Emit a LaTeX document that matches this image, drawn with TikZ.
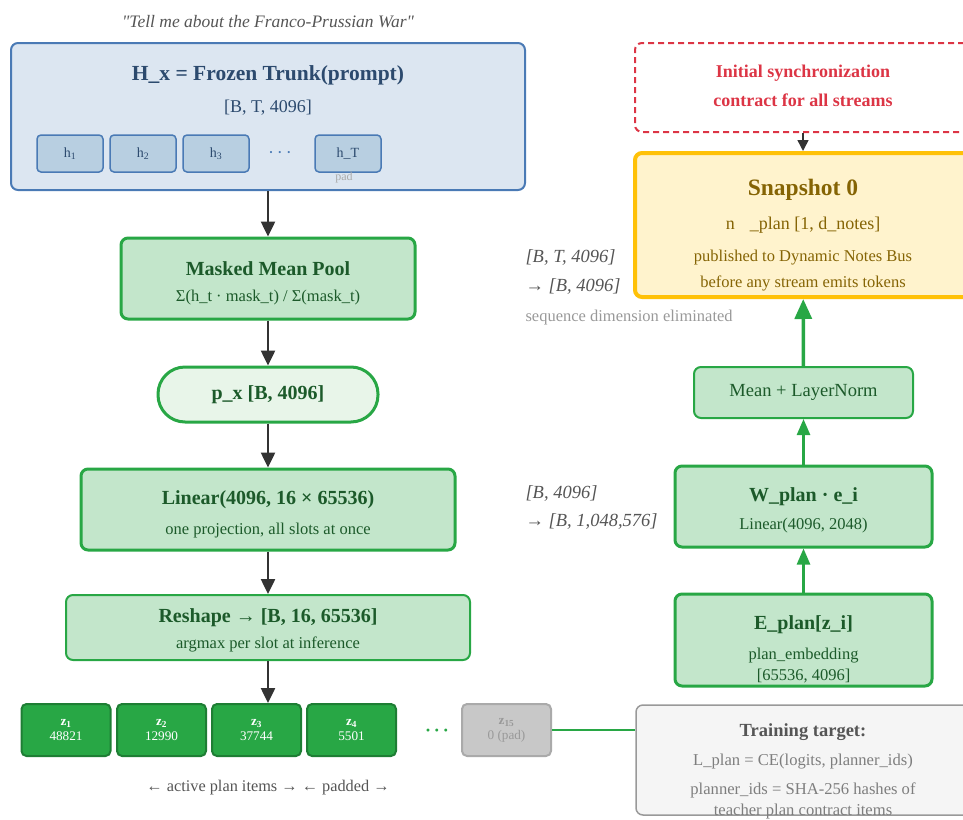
\documentclass[tikz,border=0pt]{standalone}
\usepackage{fontspec}
\setmainfont{Liberation Serif}
\usetikzlibrary{arrows.meta}
\definecolor{trunkfill}{HTML}{DCE6F1}
\definecolor{trunkline}{HTML}{4A7AB5}
\definecolor{trunktext}{HTML}{2C4A6E}
\definecolor{hfill}{HTML}{B8CFE1}
\definecolor{gfill}{HTML}{C3E6CB}
\definecolor{gline}{HTML}{28A745}
\definecolor{gtext}{HTML}{1C5A2A}
\definecolor{pxfill}{HTML}{E8F5E9}
\definecolor{zline}{HTML}{1E7E34}
\definecolor{snapfill}{HTML}{FFF3CD}
\definecolor{snapline}{HTML}{FFC107}
\definecolor{snaptext}{HTML}{856404}
\definecolor{syncred}{HTML}{DC3545}
\definecolor{arrowc}{HTML}{333333}
\definecolor{notegray}{HTML}{555555}
\definecolor{lightgray}{HTML}{999999}
\definecolor{padfill}{HTML}{C8C8C8}
\definecolor{padline}{HTML}{AAAAAA}
\definecolor{trainfill}{HTML}{F5F5F5}

\begin{document}
\begin{tikzpicture}[x=1pt,y=-1pt,
  box/.style={draw, rounded corners=7pt, inner sep=0pt},
  greenbox/.style={box, fill=gfill, draw=gline, line width=3pt},
  hbox/.style={box, rounded corners=4pt, fill=hfill, draw=trunkline, line width=1.5pt,
    minimum width=66pt, minimum height=37pt, text=trunktext, font=\fontsize{14}{16}\selectfont},
  zbox/.style={box, rounded corners=5pt, fill=gline, draw=zline, line width=2pt,
    minimum width=89pt, minimum height=52pt, text=white, align=center,
    font=\fontsize{13.2}{15}\selectfont},
  gtitle/.style={text=gtext, font=\fontsize{20}{24}\selectfont\bfseries},
  gsub/.style={text=gtext, font=\fontsize{16.5}{19}\selectfont},
  note/.style={text=notegray, anchor=west, font=\fontsize{18.5}{21}\selectfont\itshape},
  darrow/.style={draw=arrowc, line width=2.5pt, -{Triangle[length=15pt,width=14pt]}},
  garrow/.style={draw=gline, line width=2.5pt, -{Triangle[length=16pt,width=13pt]}}]
\useasboundingbox (0,0) rectangle (963,819);

% left column: trunk
\node[text=notegray, font=\fontsize{17.5}{20}\selectfont\itshape] (prompt) at (268,22)
  {\textquotedbl Tell me about the Franco-Prussian War\textquotedbl};
\node[box, fill=trunkfill, draw=trunkline, line width=2pt, minimum width=514pt,
  minimum height=147pt] (trunk) at (268,116.5) {};
\node[text=trunktext, font=\fontsize{21.5}{25}\selectfont\bfseries] (trunktitle) at (268,75)
  {H\_x = Frozen Trunk(prompt)};
\node[text=trunktext, font=\fontsize{18}{21}\selectfont] (trunkshape) at (268,108) {[B, T, 4096]};
\node[hbox] (h1) at (70,153.5) {h\textsubscript{1}};
\node[hbox] (h2) at (143,153.5) {h\textsubscript{2}};
\node[hbox] (h3) at (216,153.5) {h\textsubscript{3}};
\node[text=trunkline, font=\fontsize{18}{20}\selectfont] (hdots) at (280,155)
  {\textperiodcentered\,\textperiodcentered\,\textperiodcentered};
\node[hbox] (hT) at (348,153.5) {h\_T};
\node[text=padline, font=\fontsize{12}{14}\selectfont] (hpad) at (344,178) {pad};

% left column: head
\node[greenbox, minimum width=294pt, minimum height=81pt] (pool) at (268,278.5) {};
\node[gtitle] (pooltitle) at (268,269) {Masked Mean Pool};
\node[gsub] (poolsub) at (268,298) {Σ(h\_t · mask\_t) / Σ(mask\_t)};
\node[box, rounded corners=27pt, fill=pxfill, draw=gline, line width=3pt, minimum width=220pt,
  minimum height=55pt, gtitle] (px) at (268,394.5) {p\_x [B, 4096]};
\node[greenbox, minimum width=374pt, minimum height=81pt] (lin) at (268,509.5) {};
\node[gtitle] (lintitle) at (268,500) {Linear(4096, 16 × 65536)};
\node[gsub] (linsub) at (268,531) {one projection, all slots at once};
\node[greenbox, line width=2pt, minimum width=404pt, minimum height=65pt] (resh) at (268,627.5) {};
\node[gtitle] (reshtitle) at (268,618) {Reshape → [B, 16, 65536]};
\node[gsub] (reshsub) at (268,644) {argmax per slot at inference};

% slots
\node[zbox] (z1) at (66,730) {\textbf{z\textsubscript{1}}\\48821};
\node[zbox] (z2) at (161.5,730) {\textbf{z\textsubscript{2}}\\12990};
\node[zbox] (z3) at (256.5,730) {\textbf{z\textsubscript{3}}\\37744};
\node[zbox] (z4) at (351.5,730) {\textbf{z\textsubscript{4}}\\5501};
\node[text=gline, font=\fontsize{18}{20}\selectfont\bfseries] (zdots) at (437,733)
  {\textperiodcentered\,\textperiodcentered\,\textperiodcentered};
\node[zbox, fill=padfill, draw=padline, text=lightgray] (z15) at (506.5,730)
  {\textbf{z\textsubscript{15}}\\0 (pad)};
\node[text=notegray, font=\fontsize{16.3}{19}\selectfont] (zlegend) at (268,788)
  {← active plan items → ← padded →};

% shape notes
\node[note] (note1a) at (522,258) {[B, T, 4096]};
\node[note] (note1b) at (522,287) {→ [B, 4096]};
\node[text=lightgray, anchor=west, font=\fontsize{16.5}{19}\selectfont] (note1c) at (522,318)
  {sequence dimension eliminated};
\node[note] (note2a) at (522,493) {[B, 4096]};
\node[note] (note2b) at (522,521) {→ [B, 1,048,576]};

% right column
\node[box, draw=syncred, line width=2pt, dash pattern=on 6pt off 4pt, minimum width=336pt,
  minimum height=89pt] (sync) at (803,87.5) {};
\node[text=syncred, align=center, font=\fontsize{18}{29}\selectfont\bfseries] (synctext) at (803,86)
  {Initial synchronization\\contract for all streams};
\node[box, fill=snapfill, draw=snapline, line width=4pt, minimum width=336pt,
  minimum height=144pt] (snap) at (803,225) {};
\node[text=snaptext, font=\fontsize{23.5}{28}\selectfont\bfseries] (snaptitle) at (803,190) {Snapshot 0};
\node[text=snaptext, font=\fontsize{18}{21}\selectfont] (snapvar) at (803,225)
  {n\hspace{15pt}\_plan [1, d\_notes]};
\node[text=snaptext, align=center, font=\fontsize{16.5}{26}\selectfont] (snapsub) at (803,271)
  {published to Dynamic Notes Bus\\before any stream emits tokens};
\node[greenbox, line width=2pt, minimum width=219pt, minimum height=51pt,
  font=\fontsize{18.5}{21}\selectfont, text=gtext] (mean) at (803.5,392.5) {Mean + LayerNorm};
\node[greenbox, minimum width=257pt, minimum height=81pt] (wplan) at (803.5,506.5) {};
\node[gtitle] (wplantitle) at (803.5,497) {W\_plan · e\_i};
\node[gsub] (wplansub) at (803.5,526) {Linear(4096, 2048)};
\node[greenbox, minimum width=257pt, minimum height=92pt] (eplan) at (803.5,640) {};
\node[gtitle] (eplantitle) at (803.5,625) {E\_plan[z\_i]};
\node[gsub, align=center, font=\fontsize{16.5}{21}\selectfont] (eplansub) at (803.5,666)
  {plan\_embedding\\[0pt][65536, 4096]};

% training target
\node[box, fill=trainfill, draw=lightgray, line width=1.5pt, minimum width=344pt,
  minimum height=110pt] (train) at (808,760) {};
\node[text=notegray, font=\fontsize{18.5}{22}\selectfont\bfseries] (traintitle) at (803,732) {Training target:};
\node[text=lightgray!60!notegray, font=\fontsize{16.6}{19}\selectfont] (trainloss) at (803,762)
  {L\_plan = CE(logits, planner\_ids)};
\node[text=lightgray!60!notegray, align=center, font=\fontsize{16.6}{21}\selectfont] (trainids) at (803,801)
  {planner\_ids = SHA-256 hashes of\\teacher plan contract items};

% connectors
\draw[darrow] (trunk) -- (pool);
\draw[darrow] (pool) -- (px);
\draw[darrow] (px) -- (lin);
\draw[darrow] (lin) -- (resh);
\draw[darrow] (resh.south) -- (resh.south |- z3.north);
\draw[draw=arrowc, line width=1.5pt, -{Triangle[length=11pt,width=11pt]}] (sync) -- (snap);
\draw[draw=gline, line width=3.5pt, -{Triangle[length=20pt,width=17pt]}] (mean) -- (snap);
\draw[garrow] (wplan) -- (mean);
\draw[garrow] (eplan) -- (wplan);
\draw[draw=gline, line width=2pt] (z15.east) -- (z15.east -| train.west);
\end{tikzpicture}
\end{document}
